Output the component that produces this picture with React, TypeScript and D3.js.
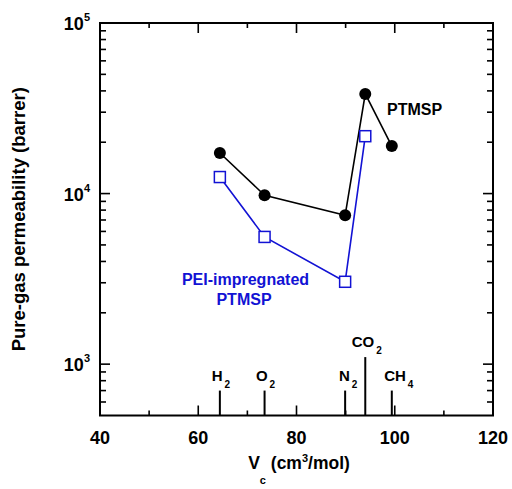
import React from "react";
import * as d3 from "d3";

const gasMain = ["H", "O", "N", "CO", "CH"];
const gasSub = ["2", "2", "2", "2", "4"];
const gasVc = [64.4, 73.5, 89.9, 94.0, 99.4];
const gasStick = [700, 700, 700, 1100, 700];
const ptmspVals = [17300, 9780, 7460, 38400, 19000];
const peiVals = [12500, 5570, 3040, 21700];
const xMajor = [40, 60, 80, 100, 120];
const xMinor = [50, 70, 90, 110];
const yMajorExp = [3, 4, 5];

const W = 512;
const H = 489;
const L = 100, R = 493, T = 23, B = 415.5;
const FONT = "'Liberation Sans', Arial, Helvetica, sans-serif";
const BLUE = "#1212d4";
const labelDx = [1, 1, 3, 1.5, 7];

export default function App() {
  const x = d3.scaleLinear().domain([40, 120]).range([L, R]);
  const y = d3.scaleLog().domain([500, 100000]).range([B, T]);

  const yMinor: number[] = [];
  [100, 1000, 10000].forEach((d) => {
    for (let k = 2; k <= 9; k++) {
      const v = d * k;
      if (v > 500 && v < 100000 && v !== 1000 && v !== 10000) yMinor.push(v);
    }
  });

  const ptmspPts = ptmspVals.map((v, i) => [x(gasVc[i]), y(v)] as [number, number]);
  const peiPts = peiVals.map((v, i) => [x(gasVc[i]), y(v)] as [number, number]);
  const line = d3.line();

  return (
    <svg width={W} height={H} style={{ position: "absolute", left: 0, top: 0, background: "#fff" }} fontFamily={FONT} fontWeight="bold">
      {/* frame */}
      <rect x={L} y={T} width={R - L} height={B - T} fill="none" stroke="#000" strokeWidth={2} />
      {/* x ticks */}
      {xMajor.map((v) => (
        <g key={"xm" + v}>
          <line x1={x(v)} x2={x(v)} y1={B} y2={B - 10} stroke="#000" strokeWidth={1.6} />
          <line x1={x(v)} x2={x(v)} y1={T} y2={T + 10} stroke="#000" strokeWidth={1.6} />
          <text x={x(v)} y={444} textAnchor="middle" fontSize={18}>{v}</text>
        </g>
      ))}
      {xMinor.map((v) => (
        <g key={"xn" + v}>
          <line x1={x(v)} x2={x(v)} y1={B} y2={B - 5} stroke="#000" strokeWidth={1.6} />
          <line x1={x(v)} x2={x(v)} y1={T} y2={T + 5} stroke="#000" strokeWidth={1.6} />
        </g>
      ))}
      {/* y ticks */}
      {yMajorExp.map((e) => {
        const yy = y(Math.pow(10, e));
        return (
          <g key={"ym" + e}>
            <line x1={L} x2={L + 10} y1={yy} y2={yy} stroke="#000" strokeWidth={1.6} />
            <line x1={R} x2={R - 10} y1={yy} y2={yy} stroke="#000" strokeWidth={1.6} />
            <text x={90} y={yy + 7} textAnchor="end" fontSize={18}>
              10<tspan dy={-9} fontSize={11}>{e}</tspan>
            </text>
          </g>
        );
      })}
      {yMinor.map((v) => (
        <g key={"yn" + v}>
          <line x1={L} x2={L + 6} y1={y(v)} y2={y(v)} stroke="#000" strokeWidth={1.6} />
          <line x1={R} x2={R - 6} y1={y(v)} y2={y(v)} stroke="#000" strokeWidth={1.6} />
        </g>
      ))}
      {/* gas sticks */}
      {gasVc.map((v, i) => {
        const top = y(gasStick[i]);
        return (
          <g key={"g" + i}>
            <line x1={x(v)} x2={x(v)} y1={B} y2={top} stroke="#000" strokeWidth={2} />
            <text x={x(v) + labelDx[i]} y={top - 10} textAnchor="middle" fontSize={15}>
              {gasMain[i]}
              <tspan dx={2} dy={7} fontSize={10}>{gasSub[i]}</tspan>
            </text>
          </g>
        );
      })}
      {/* series lines */}
      <path d={line(ptmspPts) || ""} fill="none" stroke="#000" strokeWidth={1.6} />
      <path d={line(peiPts) || ""} fill="none" stroke={BLUE} strokeWidth={1.6} />
      {ptmspPts.map((p, i) => (
        <circle key={"c" + i} cx={p[0]} cy={p[1]} r={6} fill="#000" />
      ))}
      {peiPts.map((p, i) => (
        <rect key={"s" + i} x={p[0] - 5.5} y={p[1] - 5.5} width={11} height={11} fill="#fff" stroke={BLUE} strokeWidth={1.5} />
      ))}
      {/* annotations */}
      <text x={387} y={115} fontSize={16} fill="#000">PTMSP</text>
      <text x={245.5} y={285} fontSize={16} fill={BLUE} textAnchor="middle">PEI-impregnated</text>
      <text x={244} y={305} fontSize={16} fill={BLUE} textAnchor="middle">PTMSP</text>
      {/* axis titles */}
      <text x={299} y={469} textAnchor="middle" fontSize={17.5}>
        V<tspan dy={15} fontSize={11}>c</tspan>
        <tspan dy={-15}> (cm</tspan>
        <tspan dy={-7} fontSize={11}>3</tspan>
        <tspan dy={7}>/mol)</tspan>
      </text>
      <text transform={`translate(25,${(T + B) / 2}) rotate(-90)`} textAnchor="middle" fontSize={18.5}>
        Pure-gas permeability (barrer)
      </text>
    </svg>
  );
}
